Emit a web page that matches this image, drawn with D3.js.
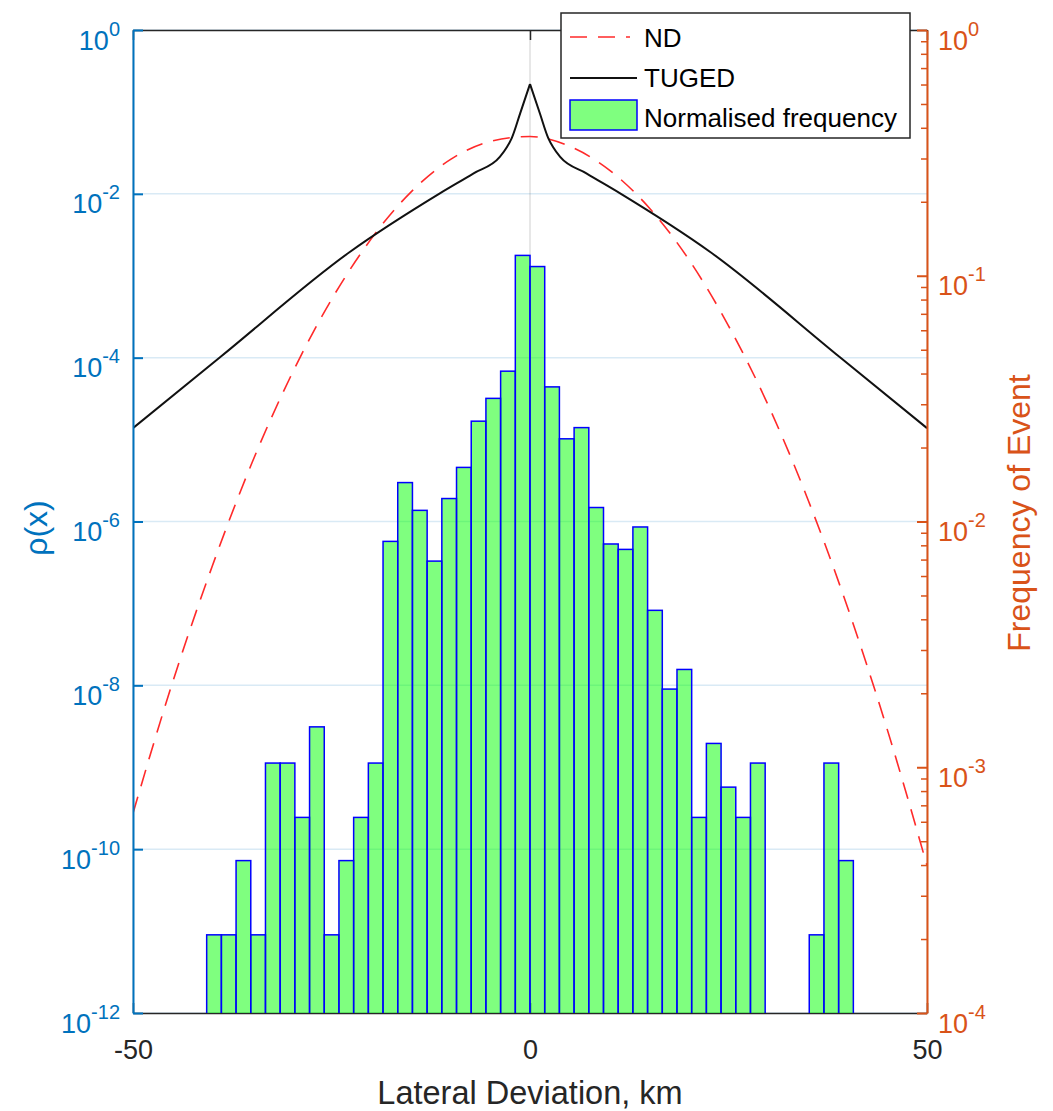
<!DOCTYPE html>
<html><head><meta charset="utf-8">
<script src="https://cdn.jsdelivr.net/npm/d3@7"></script>
<style>body{margin:0;background:#fff}svg{display:block}</style>
</head><body>
<svg id="chart" width="1053" height="1111"></svg>
<script>
// ---------- data ----------
const binStart = -40.72;          // left edge of first histogram bin (km)
const binWidth = 1.851;           // bin width (km)
const binFreq = [               // normalised frequency per bin (right axis)
  2.08e-4, 2.08e-4, 4.17e-4, 2.08e-4, 1.04e-3, 1.04e-3, 6.25e-4, 1.46e-3,
  2.08e-4, 4.17e-4, 6.25e-4, 1.04e-3, 8.3e-3, 1.44e-2, 1.11e-2, 6.9e-3,
  1.24e-2, 1.66e-2, 2.56e-2, 3.17e-2, 4.09e-2, 1.21e-1, 1.09e-1, 3.53e-2,
  2.17e-2, 2.41e-2, 1.14e-2, 8.1e-3, 7.7e-3, 9.5e-3, 4.35e-3, 2.08e-3,
  2.5e-3, 6.25e-4, 1.25e-3, 8.3e-4, 6.25e-4, 1.04e-3, 0, 0,
  0, 2.08e-4, 1.04e-3, 4.17e-4
];
const ndX = [-50,-45,-40,-35,-30,-25,-20,-15,-10,-5,0,5,10,15,20,25,30,35,40,45,50];
const ndY = [2.75e-10,1.10e-8,2.88e-7,5.25e-6,6.31e-5,5.13e-4,2.82e-3,1.05e-2,2.63e-2,4.37e-2,5.01e-2,
             3.80e-2,1.95e-2,6.76e-3,1.58e-3,2.45e-4,2.63e-5,1.86e-6,8.91e-8,2.88e-9,6.31e-11];
const tugedLeftX = [-50,-39,-22.7,-11.3,-7.1,-3.8,-2.9,-2.3,-1.25,0];
const tugedLeftY = [1.38e-5,1.02e-4,1.95e-3,1.02e-2,1.78e-2,2.82e-2,3.72e-2,4.79e-2,9.55e-2,0.219];
const tugedRightX = [0,1.25,2.3,2.9,3.8,7.1,11.3,22.7,39,50];
const tugedRightY = [0.219,9.55e-2,4.79e-2,3.72e-2,2.82e-2,1.78e-2,1.02e-2,1.95e-3,1.02e-4,1.38e-5];
const xTickValues = [-50, 0, 50];
const xTickLabels = ["-50", "0", "50"];
const leftTickValues = [1, 1e-2, 1e-4, 1e-6, 1e-8, 1e-10, 1e-12];
const rightTickValues = [1, 1e-1, 1e-2, 1e-3, 1e-4];
const legendLabels = ["ND", "TUGED", "Normalised frequency"];
const xLabel = "Lateral Deviation, km";
const yLeftLabel = "\u03C1(x)";
const yRightLabel = "Frequency of Event";

// ---------- layout ----------
const M = {left:133, right:927, top:30, bottom:1013};
const FONT = "'Liberation Sans', Arial, Helvetica, sans-serif";
const BLUE = "#0072BD", ORANGE = "#D95319", DARK = "#262626";
const svg = d3.select("#chart").style("font-family", FONT);

const x = d3.scaleLinear().domain([-50, 50]).range([M.left, M.right]);
const yL = d3.scaleLog().domain([1e-12, 1]).range([M.bottom, M.top]);
const yR = d3.scaleLog().domain([1e-4, 1]).range([M.bottom, M.top]);

svg.append("defs").append("clipPath").attr("id","plotclip")
  .append("rect").attr("x", M.left).attr("y", M.top)
  .attr("width", M.right - M.left).attr("height", M.bottom - M.top);

// ---------- grid ----------
const grid = svg.append("g");
grid.selectAll("line.h").data(leftTickValues).join("line")
  .attr("x1", M.left).attr("x2", M.right)
  .attr("y1", d => yL(d)).attr("y2", d => yL(d))
  .attr("stroke", BLUE).attr("stroke-opacity", 0.15).attr("stroke-width", 1.5);
grid.selectAll("line.v").data(xTickValues).join("line")
  .attr("x1", d => x(d)).attr("x2", d => x(d))
  .attr("y1", M.top).attr("y2", M.bottom)
  .attr("stroke", DARK).attr("stroke-opacity", 0.15).attr("stroke-width", 1.5);

// ---------- x axes (bottom + top box line) ----------
const gx = svg.append("g").attr("transform", `translate(0,${M.bottom})`)
  .call(d3.axisBottom(x).tickValues(xTickValues).tickSizeInner(-10).tickSizeOuter(0)
        .tickFormat((d, i) => xTickLabels[i]));
gx.select(".domain").attr("stroke", DARK).attr("stroke-width", 1.5);
gx.selectAll(".tick line").attr("stroke", DARK).attr("stroke-width", 1.5);
gx.selectAll(".tick text").attr("y", 46).attr("dy", 0)
  .attr("fill", DARK).style("font-size", "27px").style("font-family", FONT);

const gxt = svg.append("g").attr("transform", `translate(0,${M.top})`)
  .call(d3.axisTop(x).tickValues(xTickValues).tickSizeInner(-10).tickSizeOuter(0).tickFormat(""));
gxt.select(".domain").attr("stroke", DARK).attr("stroke-width", 1.5);
gxt.selectAll(".tick line").attr("stroke", DARK).attr("stroke-width", 1.5);
gxt.selectAll(".tick text").remove();

// ---------- histogram bars (right axis) ----------
const bins = binFreq.map((v, i) => ({x0: binStart + i * binWidth, x1: binStart + (i + 1) * binWidth, v}))
  .filter(d => d.v > 0);
svg.append("g").attr("clip-path", "url(#plotclip)")
  .selectAll("rect").data(bins).join("rect")
  .attr("x", d => x(d.x0)).attr("width", d => x(d.x1) - x(d.x0))
  .attr("y", d => yR(d.v)).attr("height", d => M.bottom + 6 - yR(d.v))
  .attr("fill", "#00ff00").attr("fill-opacity", 0.5)
  .attr("stroke", "#0000ff").attr("stroke-width", 1.5);

// ---------- curves (left axis) ----------
const curves = svg.append("g").attr("clip-path", "url(#plotclip)");
const line = d3.line().x(d => x(d[0])).y(d => yL(d[1])).curve(d3.curveMonotoneX);
curves.append("path").datum(ndX.map((v, i) => [v, ndY[i]]))
  .attr("d", line).attr("fill", "none")
  .attr("stroke", "#ff2a2a").attr("stroke-width", 1.6).attr("stroke-dasharray", "17,11");
[[tugedLeftX, tugedLeftY], [tugedRightX, tugedRightY]].forEach(([xs, ys]) => {
  curves.append("path").datum(xs.map((v, i) => [v, ys[i]]))
    .attr("d", line).attr("fill", "none")
    .attr("stroke", "#111").attr("stroke-width", 2).attr("stroke-linejoin", "round");
});

// ---------- y axes ----------
function powLabel(sel, anchor, dx, color) {
  sel.each(function(d) {
    const t = d3.select(this).append("text")
      .attr("x", dx).attr("y", 19).attr("text-anchor", anchor)
      .attr("fill", color).style("font-size", "27px").style("font-family", FONT);
    t.append("tspan").text("10");
    t.append("tspan").attr("dy", -14).style("font-size", "20px").text(String(Math.round(Math.log10(d))));
  });
}
const gl = svg.append("g").attr("transform", `translate(${M.left},0)`)
  .call(d3.axisLeft(yL).tickValues(leftTickValues).tickSizeInner(-10).tickSizeOuter(0).tickFormat(""));
gl.select(".domain").attr("stroke", BLUE).attr("stroke-width", 2);
gl.selectAll(".tick line").attr("stroke", BLUE).attr("stroke-width", 2);
gl.selectAll(".tick text").remove();
powLabel(gl.selectAll(".tick"), "end", -13, BLUE);

const minorR = [];
[-4, -3, -2, -1].forEach(k => { for (let m = 2; m <= 9; m++) minorR.push(m * Math.pow(10, k)); });
const grm = svg.append("g").attr("transform", `translate(${M.right},0)`)
  .call(d3.axisRight(yR).tickValues(minorR).tickSizeInner(-6).tickSizeOuter(0).tickFormat(""));
grm.select(".domain").remove();
grm.selectAll(".tick line").attr("stroke", ORANGE).attr("stroke-width", 1.5);
grm.selectAll(".tick text").remove();

const gr = svg.append("g").attr("transform", `translate(${M.right},0)`)
  .call(d3.axisRight(yR).tickValues(rightTickValues).tickSizeInner(-10).tickSizeOuter(0).tickFormat(""));
gr.select(".domain").attr("stroke", ORANGE).attr("stroke-width", 2);
gr.selectAll(".tick line").attr("stroke", ORANGE).attr("stroke-width", 2);
gr.selectAll(".tick text").remove();
powLabel(gr.selectAll(".tick"), "start", 11, ORANGE);

// ---------- axis labels ----------
svg.append("text").attr("x", x(0)).attr("y", 1104).attr("text-anchor", "middle")
  .attr("fill", DARK).style("font-size", "32.5px").text(xLabel);
svg.append("text").attr("transform", "translate(47,528) rotate(-90)").attr("text-anchor", "middle")
  .attr("fill", BLUE).style("font-size", "32px").text(yLeftLabel);
svg.append("text").attr("transform", "translate(1030,513) rotate(-90)").attr("text-anchor", "middle")
  .attr("fill", ORANGE).style("font-size", "32px").text(yRightLabel);

// ---------- legend ----------
const lg = svg.append("g");
lg.append("rect").attr("x", 561).attr("y", 13).attr("width", 349).attr("height", 125)
  .attr("fill", "#fff").attr("stroke", DARK).attr("stroke-width", 1.5);
lg.append("line").attr("x1", 570).attr("x2", 630).attr("y1", 37).attr("y2", 37)
  .attr("stroke", "#ff2a2a").attr("stroke-width", 1.6).attr("stroke-dasharray", "17,11");
lg.append("line").attr("x1", 570).attr("x2", 637).attr("y1", 78).attr("y2", 78)
  .attr("stroke", "#111").attr("stroke-width", 2);
lg.append("rect").attr("x", 570).attr("y", 100).attr("width", 67).attr("height", 30)
  .attr("fill", "#00ff00").attr("fill-opacity", 0.5).attr("stroke", "#0000ff").attr("stroke-width", 1.5);
lg.selectAll("text.lab").data(legendLabels).join("text")
  .attr("x", 644).attr("y", (d, i) => [47, 87, 126.5][i])
  .attr("fill", "#000").style("font-size", "26px").text(d => d);
</script>
</body></html>
